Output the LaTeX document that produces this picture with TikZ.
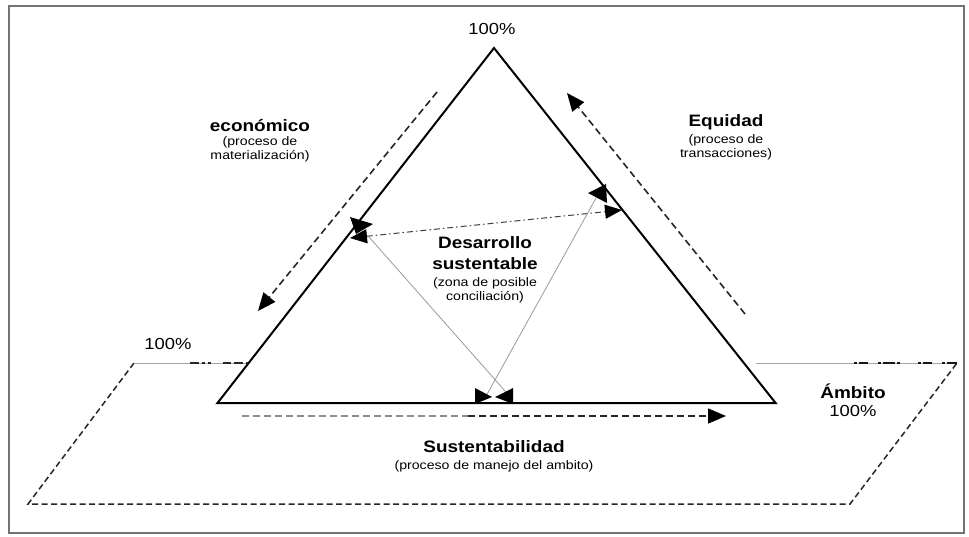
\documentclass[tikz,border=0pt]{standalone}
\usepackage{fontspec}
\setmainfont[FakeStretch=1.15]{Liberation Sans}
\usetikzlibrary{arrows.meta}
\tikzset{
  ttl/.style={font=\bfseries\fontsize{16.5}{18}\selectfont, inner sep=0pt},
  sub/.style={font=\fontsize{12.3}{14}\selectfont, inner sep=0pt, align=center},
  pct/.style={font=\fontsize{16}{18}\selectfont, inner sep=0pt},
  tri/.style={line width=2pt, line join=miter},
  dsh/.style={line width=1.6pt, dash pattern=on 7pt off 4pt, black!85},
  tipA/.style={-{Triangle[length=18pt,width=15pt,color=black]}},
  plane/.style={line width=1.5pt, dash pattern=on 6pt off 3.5pt, black!85},
  thin/.style={line width=0.9pt, black!35},
  grayl/.style={line width=0.8pt, black!40},
}
\begin{document}
\begin{tikzpicture}[x=1pt,y=-1pt]
\useasboundingbox (0,0) rectangle (969,536);
\draw[line width=1.5pt, black!55] (9,6) rectangle (964,533);

% triangle
\coordinate (A) at (494,48);
\coordinate (BL) at (217.5,403);
\coordinate (BR) at (775.6,403);
\draw[tri] (A) -- (BL) -- (BR) -- cycle;

% plane
\coordinate (PL) at (248,363);
\coordinate (PTL) at (134,363);
\coordinate (PBL) at (28,504);
\coordinate (PBR) at (850,504);
\coordinate (PTR) at (957,363);
\coordinate (PR) at (756,363);
\coordinate (PLd) at (190,363);
\coordinate (PRd) at (854,363);
\draw[plane] (PTL) -- (PBL) -- (PBR) -- (PTR);
\draw[thin] (PTL) -- (PL);
\draw[thin] (PR) -- (PTR);
\draw[line width=1.3pt, black!85, dash pattern=on 9pt off 3pt on 3pt off 3pt on 3pt off 12pt on 8pt off 3pt] (PLd) -- (PL);
\draw[line width=1.4pt, black!90, dash pattern=on 3pt off 2pt on 9pt off 10pt on 3pt off 2pt on 12pt off 2pt on 3pt off 18pt] (PRd) -- (PTR);

% process arrows
\coordinate (E1) at (437,92);
\coordinate (E2) at (258,311);
\draw[dsh,tipA] (E1) -- (E2);
\coordinate (Q1) at (745,314);
\coordinate (Q2) at (567,93);
\draw[dsh,tipA] (Q1) -- (Q2);
\coordinate (S1) at (242,416);
\coordinate (Sm) at (468,416);
\coordinate (S2) at (726,416);
\draw[dsh,black!45] (S1) -- (Sm);
\draw[dsh,tipA] (Sm) -- (S2);

% inner lines
\coordinate (DL) at (350,238);
\coordinate (DR) at (622,210);
\draw[line width=1pt, black!75, dash pattern=on 6pt off 3pt on 1.5pt off 3pt,
  {Triangle[length=17pt,width=14pt,color=black]}-{Triangle[length=17pt,width=14pt,color=black]}] (DL) -- (DR);
\coordinate (G1a) at (369,237);
\coordinate (G1b) at (513,400);
\coordinate (G2a) at (596,198);
\coordinate (G2b) at (485,398);
\draw[grayl] (G1a) -- (G1b);
\draw[grayl] (G2a) -- (G2b);
\fill (350,217) -- (356,234) -- (373,224) -- cycle;
\fill (588,193) -- (606,184) -- (607,203) -- cycle;
\fill (475,388) -- (475,404) -- (492,397) -- cycle;
\fill (513,388) -- (513,404) -- (495,397) -- cycle;

% texts
\node[pct] (top) at (492,29) {100\%};
\node[pct] (left) at (168,344) {100\%};
\node[ttl] (eco) at (260,126) {económico};
\node[sub] (ecos) at (260,149.5) {(proceso de\\materialización)};
\node[ttl] (equ) at (726,122) {Equidad};
\node[sub] (equs) at (726,147.5) {(proceso de\\transacciones)};
\node[ttl] (des) at (485,243) {Desarrollo};
\node[ttl] (sus) at (485,264) {sustentable};
\node[sub] (dess) at (485,290) {(zona de posible\\conciliación)};
\node[ttl] (amb) at (853,391) {Ámbito};
\node[pct] (ambp) at (853,411) {100\%};
\node[ttl] (sust) at (494,447) {Sustentabilidad};
\node[sub] (susts) at (494,466) {(proceso de manejo del ambito)};
\end{tikzpicture}
\end{document}
